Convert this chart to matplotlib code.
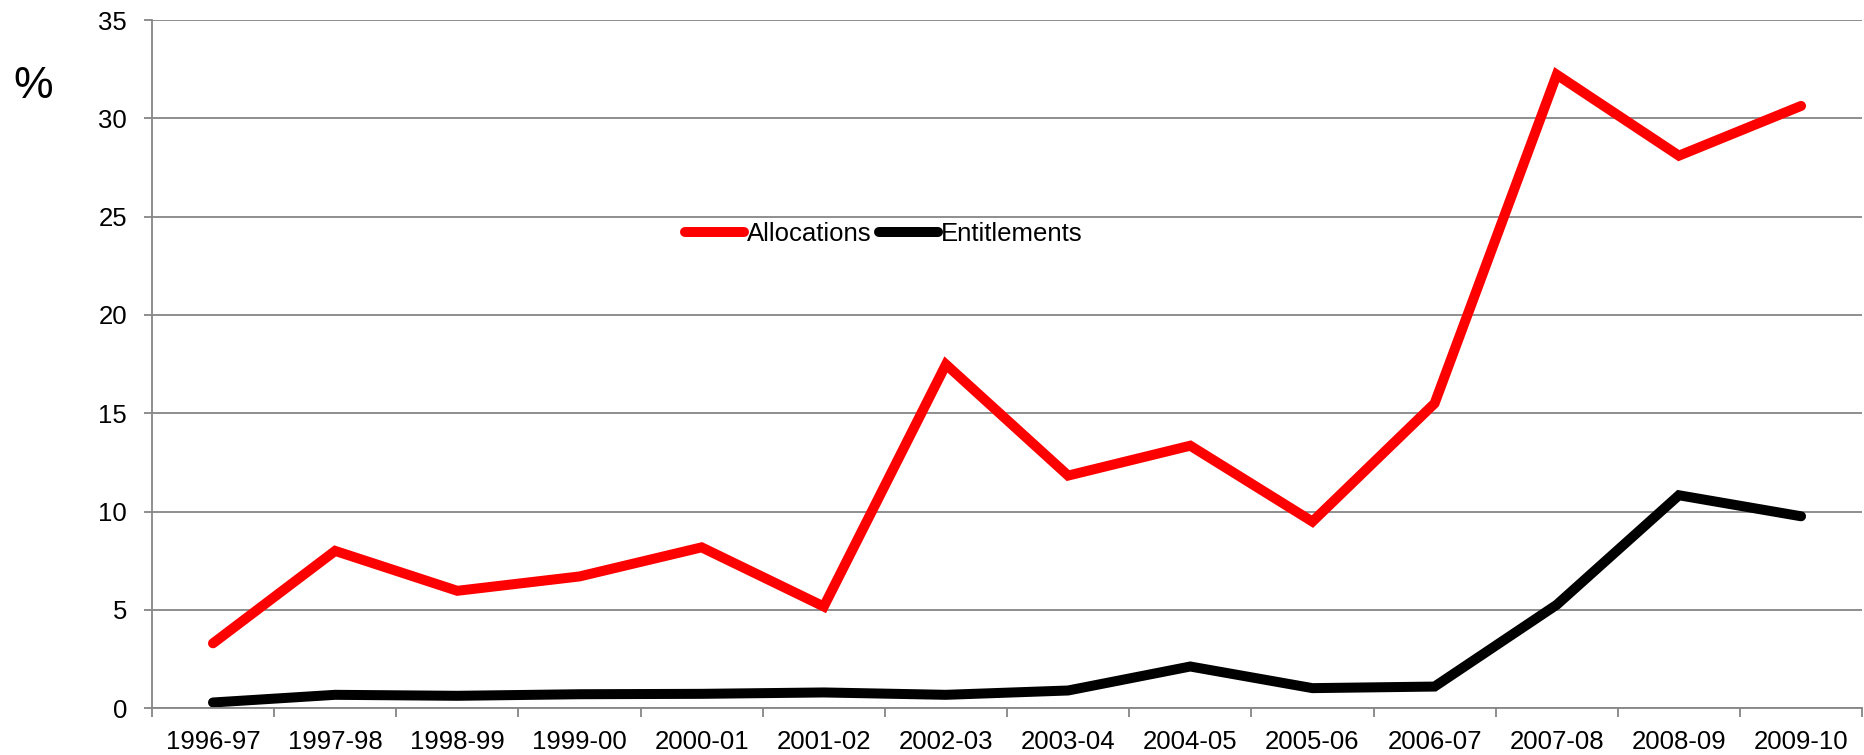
import numpy as np
import matplotlib
matplotlib.use("Agg")
import matplotlib.pyplot as plt

plt.rcParams['font.family'] = ['Liberation Sans', 'DejaVu Sans']

# data
years = ['1996-97', '1997-98', '1998-99', '1999-00', '2000-01', '2001-02', '2002-03',
         '2003-04', '2004-05', '2005-06', '2006-07', '2007-08', '2008-09', '2009-10']
allocations = [3.3, 8.0, 5.97, 6.7, 8.18, 5.17, 17.48, 11.83, 13.35, 9.49, 15.5, 32.22, 28.1, 30.63]
entitlements = [0.29, 0.68, 0.63, 0.71, 0.73, 0.8, 0.68, 0.9, 2.12, 1.02, 1.1, 5.26, 10.83, 9.76]

fig = plt.figure(figsize=(18.64, 7.55), dpi=100)
ax = fig.add_axes([0.0815, 0.062, 0.9175, 0.9115])

x = np.arange(len(years))
ax.plot(x, allocations, color='#ff0000', lw=7.2, solid_capstyle='round', solid_joinstyle='miter', label='Allocations')
ax.plot(x, entitlements, color='black', lw=7.2, solid_capstyle='round', solid_joinstyle='miter', label='Entitlements')

ax.set_xlim(-0.5, len(years) - 0.5)
ax.set_ylim(0, 35)
ax.set_yticks(range(0, 36, 5))
ax.set_xticks(x)
ax.set_xticklabels(years)
ax.set_xticks(np.arange(-0.5, len(years), 1), minor=True)
ax.tick_params(axis='x', which='major', length=0, pad=16, labelsize=18.5)
ax.tick_params(axis='x', which='minor', length=6.3, width=1.3, color='#868686')
ax.tick_params(axis='y', length=6, width=1.3, color='#868686', labelsize=18.5, pad=12)

ax.grid(axis='y', color='#868686', lw=1.3)
ax.set_axisbelow(True)
for s in ['top', 'right']:
    ax.spines[s].set_visible(False)
for s in ['left', 'bottom']:
    ax.spines[s].set_color('#868686')
    ax.spines[s].set_linewidth(1.3)

fig.text(0.007, 0.885, '%', fontsize=32, va='center', ha='left')

ax.legend(loc='center', bbox_to_anchor=(0.428, 0.689), ncol=2, frameon=False,
          fontsize=18.5, handlelength=2.3, handletextpad=0.1, columnspacing=0.3)

fig.savefig('out.png', dpi=100)
